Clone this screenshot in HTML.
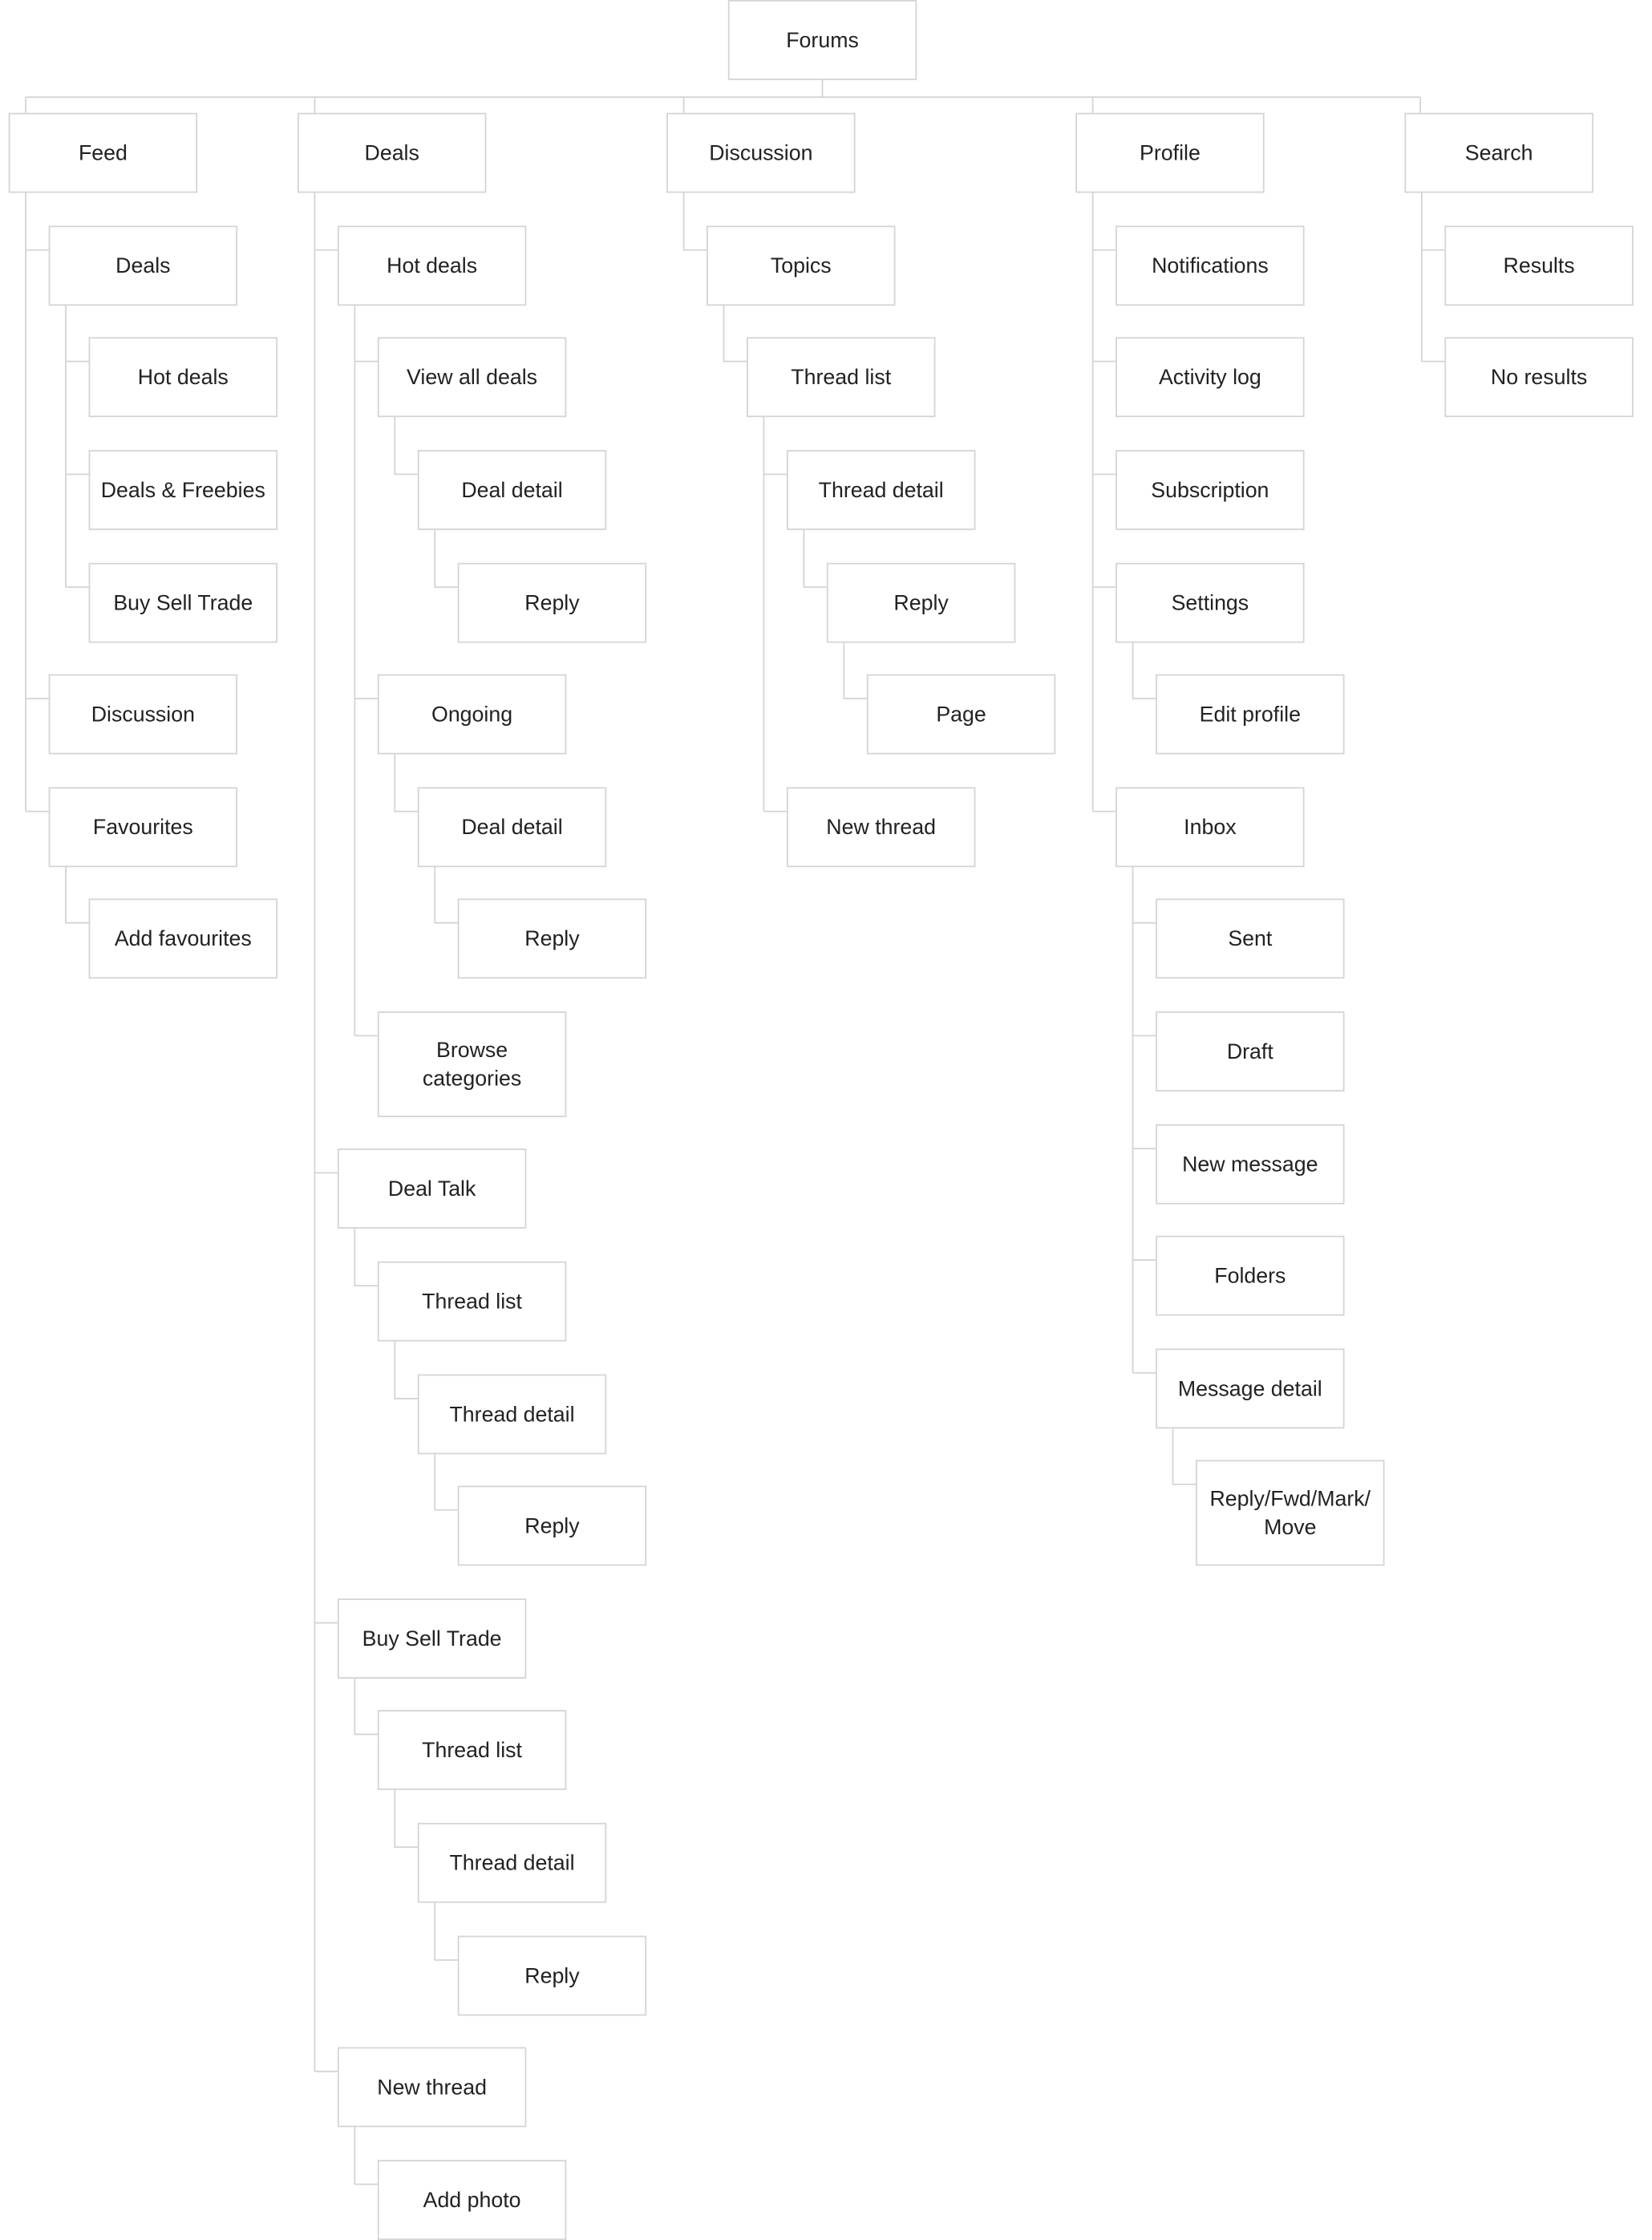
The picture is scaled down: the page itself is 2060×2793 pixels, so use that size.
<!DOCTYPE html>
<html><head><meta charset="utf-8">
<style>
html,body{margin:0;padding:0;background:#fff;}
svg{display:block;}
text{font-family:"Liberation Sans",sans-serif;font-size:15px;fill:#222;text-anchor:middle;}
rect{fill:#fff;stroke:#d4d4d4;stroke-width:1;}
path{fill:none;stroke:#d4d4d4;stroke-width:1;}
</style></head><body>
<svg width="2060" height="2793" viewBox="0 0 1155 1568" preserveAspectRatio="none" xmlns="http://www.w3.org/2000/svg">
<path d="M575 55V68 M18 68H993 M18 68V79 M220 68V79 M478 68V79 M764 68V79 M993 68V79
M18 134V568 M18 175H34 M18 489H34 M18 568H34
M46 212V411 M46 253H62 M46 332H62 M46 411H62
M46 605V646H62
M220 134V1450 M220 175H236 M220 821H236 M220 1136H236 M220 1450H236
M248 212V725 M248 253H264 M248 489H264 M248 725H264
M276 291V332H292 M304 370V411H320
M276 527V568H292 M304 605V646H320
M248 859V900H264 M276 938V979H292 M304 1017V1057H320
M248 1174V1214H264 M276 1252V1293H292 M304 1331V1372H320
M248 1488V1529H264
M478 134V175H494 M506 212V253H522
M534 291V568 M534 332H550 M534 568H550
M562 370V411H578 M590 448V489H606
M764 134V568 M764 175H780 M764 253H780 M764 332H780 M764 411H780 M764 568H780
M792 448V489H808
M792 605V961 M792 646H808 M792 725H808 M792 804H808 M792 882H808 M792 961H808
M820 998V1039H836
M994 134V253 M994 175H1010 M994 253H1010"/>
<g>
<rect x="509.5" y="0.5" width="131" height="55"/><text x="575" y="33">Forums</text>

<rect x="6.5" y="79.5" width="131" height="55"/><text x="72" y="112">Feed</text>
<rect x="34.5" y="158.5" width="131" height="55"/><text x="100" y="191">Deals</text>
<rect x="62.5" y="236.5" width="131" height="55"/><text x="128" y="269">Hot deals</text>
<rect x="62.5" y="315.5" width="131" height="55"/><text x="128" y="348">Deals &amp; Freebies</text>
<rect x="62.5" y="394.5" width="131" height="55"/><text x="128" y="427">Buy Sell Trade</text>
<rect x="34.5" y="472.5" width="131" height="55"/><text x="100" y="505">Discussion</text>
<rect x="34.5" y="551.5" width="131" height="55"/><text x="100" y="584">Favourites</text>
<rect x="62.5" y="629.5" width="131" height="55"/><text x="128" y="662">Add favourites</text>

<rect x="208.5" y="79.5" width="131" height="55"/><text x="274" y="112">Deals</text>
<rect x="236.5" y="158.5" width="131" height="55"/><text x="302" y="191">Hot deals</text>
<rect x="264.5" y="236.5" width="131" height="55"/><text x="330" y="269">View all deals</text>
<rect x="292.5" y="315.5" width="131" height="55"/><text x="358" y="348">Deal detail</text>
<rect x="320.5" y="394.5" width="131" height="55"/><text x="386" y="427">Reply</text>
<rect x="264.5" y="472.5" width="131" height="55"/><text x="330" y="505">Ongoing</text>
<rect x="292.5" y="551.5" width="131" height="55"/><text x="358" y="584">Deal detail</text>
<rect x="320.5" y="629.5" width="131" height="55"/><text x="386" y="662">Reply</text>
<rect x="264.5" y="708.5" width="131" height="73"/><text x="330" y="740">Browse</text><text x="330" y="760">categories</text>
<rect x="236.5" y="804.5" width="131" height="55"/><text x="302" y="837">Deal Talk</text>
<rect x="264.5" y="883.5" width="131" height="55"/><text x="330" y="916">Thread list</text>
<rect x="292.5" y="962.5" width="131" height="55"/><text x="358" y="995">Thread detail</text>
<rect x="320.5" y="1040.5" width="131" height="55"/><text x="386" y="1073">Reply</text>
<rect x="236.5" y="1119.5" width="131" height="55"/><text x="302" y="1152">Buy Sell Trade</text>
<rect x="264.5" y="1197.5" width="131" height="55"/><text x="330" y="1230">Thread list</text>
<rect x="292.5" y="1276.5" width="131" height="55"/><text x="358" y="1309">Thread detail</text>
<rect x="320.5" y="1355.5" width="131" height="55"/><text x="386" y="1388">Reply</text>
<rect x="236.5" y="1433.5" width="131" height="55"/><text x="302" y="1466">New thread</text>
<rect x="264.5" y="1512.5" width="131" height="55"/><text x="330" y="1545">Add photo</text>

<rect x="466.5" y="79.5" width="131" height="55"/><text x="532" y="112">Discussion</text>
<rect x="494.5" y="158.5" width="131" height="55"/><text x="560" y="191">Topics</text>
<rect x="522.5" y="236.5" width="131" height="55"/><text x="588" y="269">Thread list</text>
<rect x="550.5" y="315.5" width="131" height="55"/><text x="616" y="348">Thread detail</text>
<rect x="578.5" y="394.5" width="131" height="55"/><text x="644" y="427">Reply</text>
<rect x="606.5" y="472.5" width="131" height="55"/><text x="672" y="505">Page</text>
<rect x="550.5" y="551.5" width="131" height="55"/><text x="616" y="584">New thread</text>

<rect x="752.5" y="79.5" width="131" height="55"/><text x="818" y="112">Profile</text>
<rect x="780.5" y="158.5" width="131" height="55"/><text x="846" y="191">Notifications</text>
<rect x="780.5" y="236.5" width="131" height="55"/><text x="846" y="269">Activity log</text>
<rect x="780.5" y="315.5" width="131" height="55"/><text x="846" y="348">Subscription</text>
<rect x="780.5" y="394.5" width="131" height="55"/><text x="846" y="427">Settings</text>
<rect x="808.5" y="472.5" width="131" height="55"/><text x="874" y="505">Edit profile</text>
<rect x="780.5" y="551.5" width="131" height="55"/><text x="846" y="584">Inbox</text>
<rect x="808.5" y="629.5" width="131" height="55"/><text x="874" y="662">Sent</text>
<rect x="808.5" y="708.5" width="131" height="55"/><text x="874" y="741">Draft</text>
<rect x="808.5" y="787.5" width="131" height="55"/><text x="874" y="820">New message</text>
<rect x="808.5" y="865.5" width="131" height="55"/><text x="874" y="898">Folders</text>
<rect x="808.5" y="944.5" width="131" height="55"/><text x="874" y="977">Message detail</text>
<rect x="836.5" y="1022.5" width="131" height="73"/><text x="902" y="1054">Reply/Fwd/Mark/</text><text x="902" y="1074">Move</text>

<rect x="982.5" y="79.5" width="131" height="55"/><text x="1048" y="112">Search</text>
<rect x="1010.5" y="158.5" width="131" height="55"/><text x="1076" y="191">Results</text>
<rect x="1010.5" y="236.5" width="131" height="55"/><text x="1076" y="269">No results</text>
</g>
</svg>
</body></html>
